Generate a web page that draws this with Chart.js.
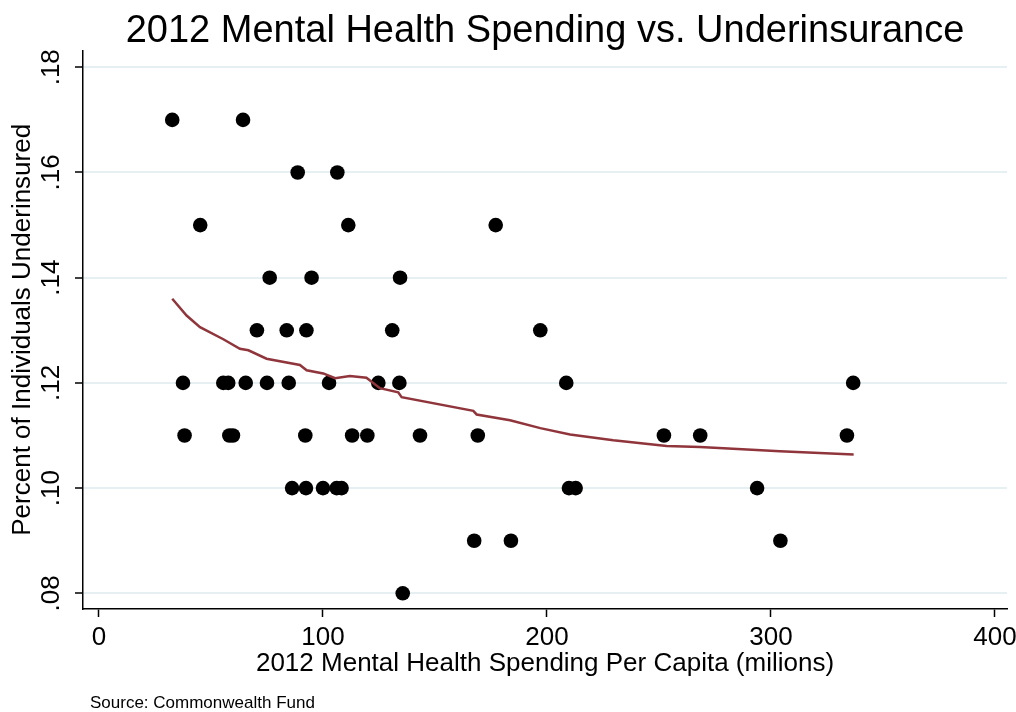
<!DOCTYPE html>
<html>
<head>
<meta charset="utf-8">
<script src="https://cdn.jsdelivr.net/npm/chart.js@4.4.0/dist/chart.umd.min.js"></script>
<style>
    html, body { margin: 0; padding: 0; background: #fff; }
    #wrap { width: 1016px; height: 712px; }
</style>
</head>
<body>
<div id="wrap"><canvas id="chart" width="1016" height="712"></canvas></div>
<script>
// === DATA ===
const spending = [
    32.7, 64.3, 88.7, 106.4, 45.2, 111.3, 177.1, 76.2, 94.9, 134.4,
    70.5, 83.8, 92.6, 130.9, 197.0,
    37.5, 55.5, 57.7, 65.5, 75.0, 84.7, 102.7, 124.7, 134.1, 208.6, 336.7,
    38.2, 58.2, 59.8, 92.1, 113.0, 119.8, 143.3, 169.1, 252.2, 268.4, 333.9,
    86.2, 92.4, 100.0, 106.1, 108.3, 209.8, 212.8, 293.8,
    167.5, 183.9, 304.2,
    135.6
];
const underinsured = [
    .17, .17, .16, .16, .15, .15, .15, .14, .14, .14,
    .13, .13, .13, .13, .13,
    .12, .12, .12, .12, .12, .12, .12, .12, .12, .12, .12,
    .11, .11, .11, .11, .11, .11, .11, .11, .11, .11, .11,
    .10, .10, .10, .10, .10, .10, .10, .10,
    .09, .09, .09,
    .08
];

// lowess fit line
const lowessX = [32.7, 39.1, 45.1, 55.5, 62.9, 66.7, 74.8, 89.7, 92.7, 100.1, 105.4, 112.0, 119.4, 125.4,
    133.6, 135.1, 167.1, 168.6, 183.5, 197.0, 210.3, 229.6, 253.4, 268.3, 304.0, 336.9];
const lowessY = [.1360, .1328, .1306, .1283, .1265, .1262, .1246, .1234, .1224, .1218, .1209, .1213, .1210, .1190,
    .1182, .1173, .1147, .1140, .1129, .1114, .1102, .1091, .1080, .1078, .1070, .1064];

const xTicks = [0, 100, 200, 300, 400];
const yTicks = [.08, .10, .12, .14, .16, .18];

const FONT = '"Liberation Sans", Arial, Helvetica, sans-serif';
const lineColor = 'rgb(144, 53, 59)';
const gridColor = 'rgb(230, 239, 241)';

// ghi chú nguồn dưới cùng
const sourceNote = {
    id: 'sourceNote',
    afterDraw(chart) {
        const ctx = chart.ctx;
        ctx.save();
        ctx.font = `17px ${FONT}`;
        ctx.fillStyle = '#000';
        ctx.textAlign = 'left';
        ctx.textBaseline = 'middle';
        ctx.fillText('Source: Commonwealth Fund', 90, 703);
        ctx.restore();
    }
};

const ctx = document.getElementById('chart').getContext('2d');
new Chart(ctx, {
    type: 'scatter',
    data: {
        datasets: [
            {
                type: 'line',
                label: 'lowess',
                data: lowessX.map((x, i) => ({ x: x, y: lowessY[i] })),
                borderColor: lineColor,
                borderWidth: 2.5,
                pointRadius: 0,
                fill: false,
                tension: 0
            },
            {
                label: 'states',
                data: spending.map((x, i) => ({ x: x, y: underinsured[i] })),
                backgroundColor: '#000',
                borderWidth: 0,
                pointRadius: 7.3,
                pointHoverRadius: 7.3
            }
        ]
    },
    options: {
        responsive: false,
        animation: false,
        layout: { padding: { left: 0, right: 9, top: 0, bottom: 35 } },
        plugins: {
            legend: { display: false },
            tooltip: { enabled: false },
            title: {
                display: true,
                fullSize: false,
                text: '2012 Mental Health Spending vs. Underinsurance',
                color: '#000',
                font: { family: FONT, size: 38, weight: 'normal' },
                padding: { top: 9, bottom: -4 }
            }
        },
        scales: {
            x: {
                type: 'linear',
                min: -7.14,
                max: 405.36,
                afterBuildTicks: (scale) => { scale.ticks = xTicks.map(v => ({ value: v })); },
                afterFit: (scale) => {
                    scale.height = 68;
                    scale.paddingLeft = 0;
                    scale.paddingRight = 0;
                },
                border: { display: true, color: '#000', width: 1.5 },
                grid: { drawOnChartArea: false, drawTicks: true, tickLength: 8, tickColor: '#000', tickWidth: 1.5 },
                ticks: { color: '#000', padding: 5, font: { family: FONT, size: 26 }, maxRotation: 0 },
                title: {
                    display: true,
                    text: '2012 Mental Health Spending Per Capita (milions)',
                    color: '#000',
                    font: { family: FONT, size: 26 },
                    padding: { top: 0, bottom: -2 }
                }
            },
            y: {
                type: 'linear',
                min: .07702,
                max: .18317,
                afterBuildTicks: (scale) => { scale.ticks = yTicks.map(v => ({ value: v })); },
                afterFit: (scale) => {
                    scale.width = 83;
                    scale.paddingTop = 0;
                    scale.paddingBottom = 0;
                },
                border: { display: true, color: '#000', width: 1.5 },
                grid: { color: gridColor, lineWidth: 2, drawTicks: true, tickLength: 8, tickColor: '#000', tickWidth: 1.5 },
                ticks: {
                    color: '#000',
                    padding: 5,
                    minRotation: 90,
                    maxRotation: 90,
                    crossAlign: 'center',
                    font: { family: FONT, size: 26 },
                    callback: (v) => v.toFixed(2).replace(/^0/, '')
                },
                title: {
                    display: true,
                    text: 'Percent of Individuals Underinsured',
                    color: '#000',
                    font: { family: FONT, size: 26 },
                    padding: { top: 7, bottom: 0 }
                }
            }
        }
    },
    plugins: [sourceNote]
});
</script>
</body>
</html>
